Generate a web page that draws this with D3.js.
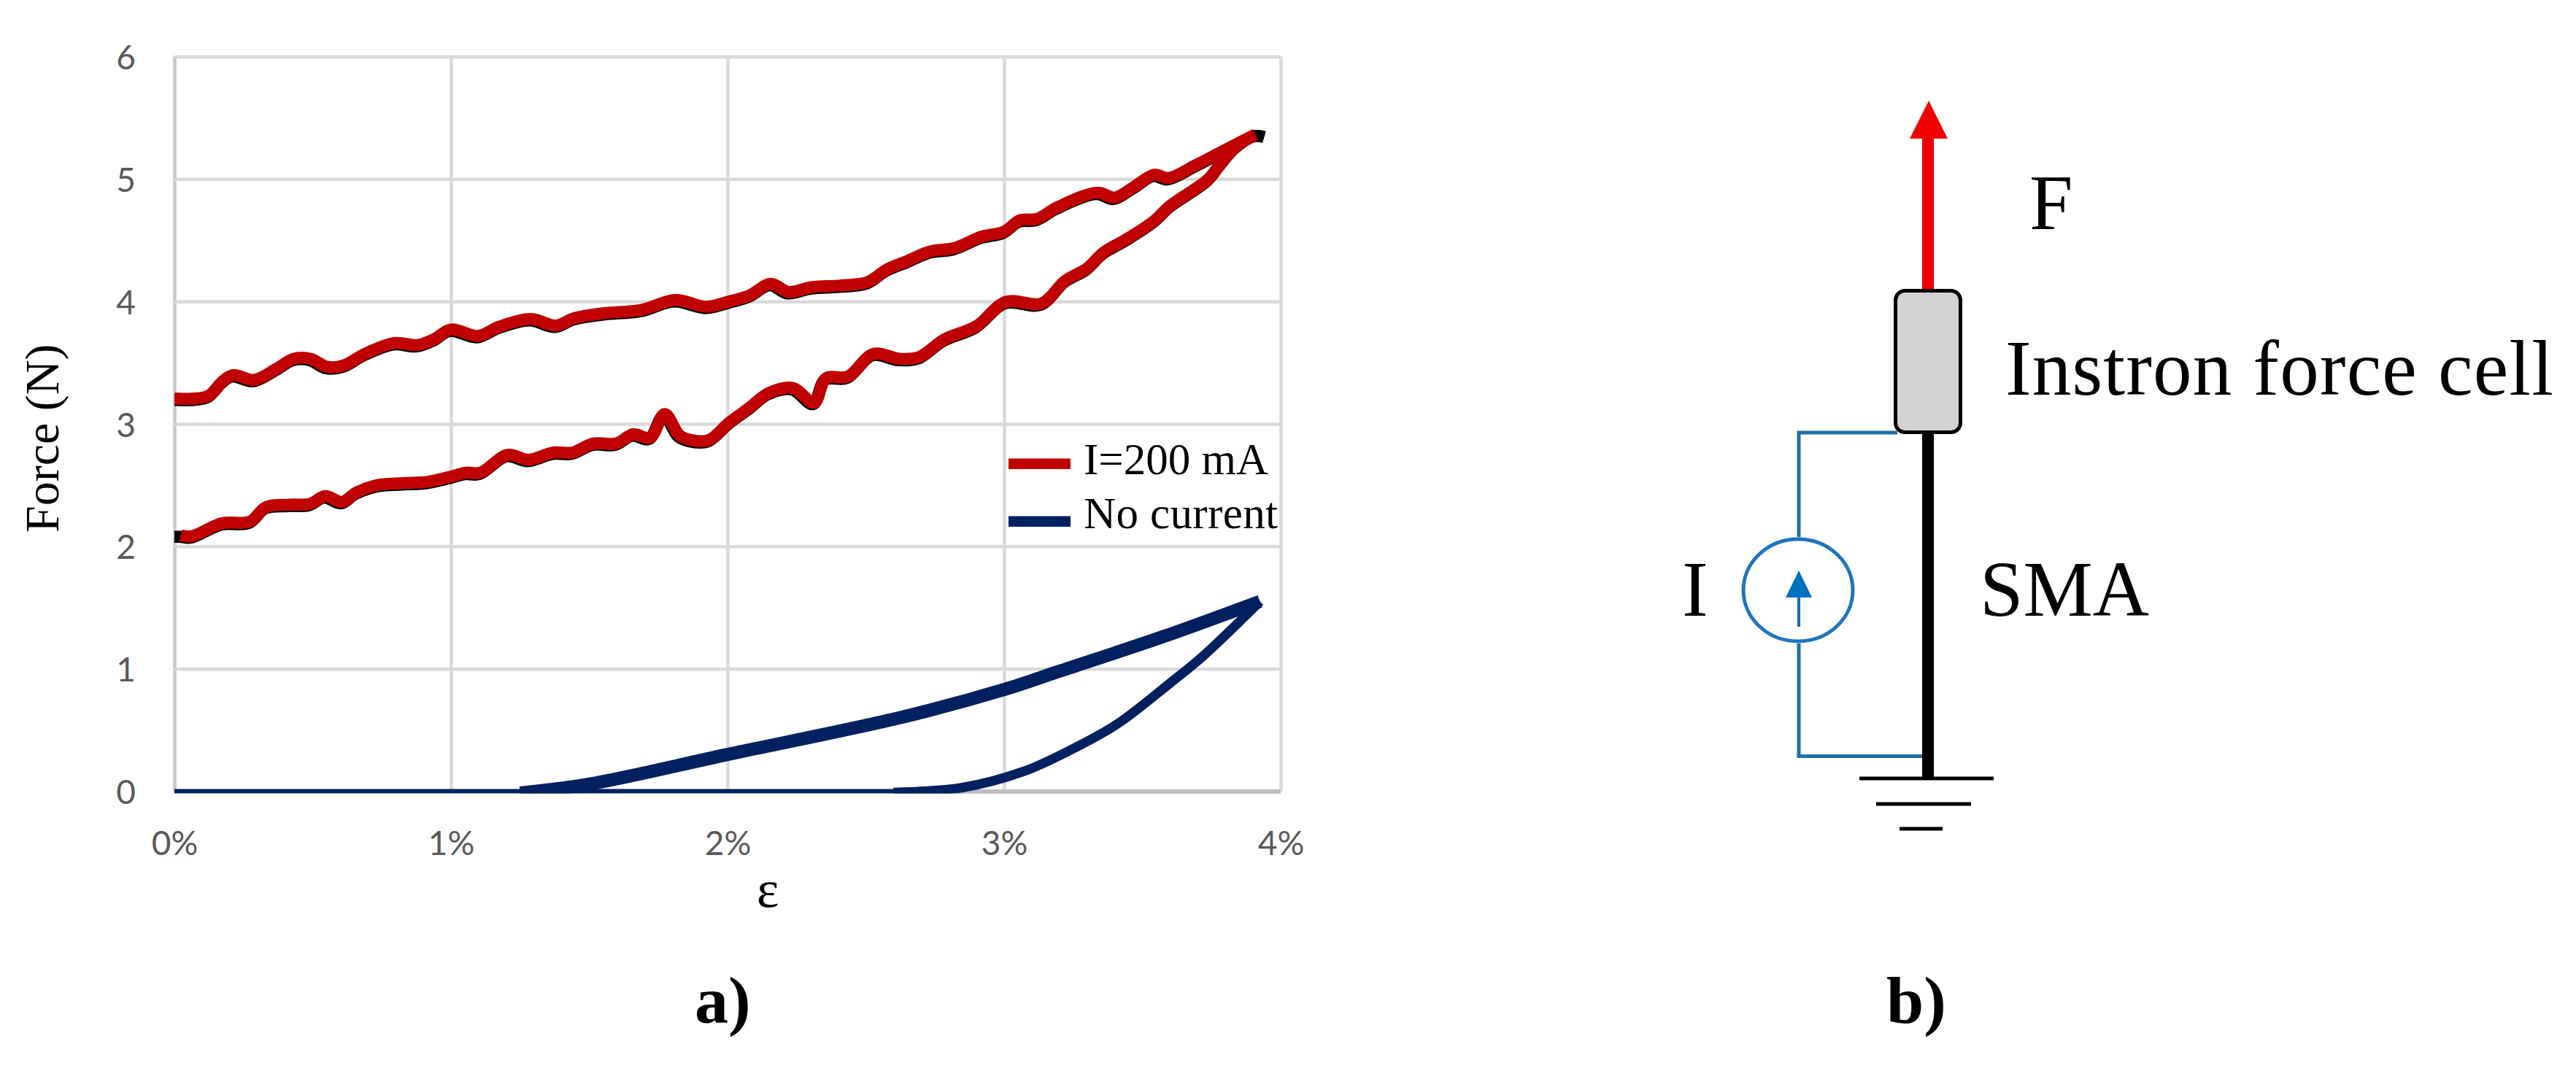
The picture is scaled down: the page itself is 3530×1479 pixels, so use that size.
<!DOCTYPE html>
<html><head><meta charset="utf-8">
<script src="https://cdn.jsdelivr.net/npm/d3@7/dist/d3.min.js"></script>
<style>
html,body{margin:0;padding:0;background:#fff}
svg{display:block}
.serif{font-family:"Liberation Serif",serif;fill:#000}
.tick text{font-family:Lato,"Open Sans",sans-serif;font-size:46px;fill:#595959}
</style></head><body>
<script>
// ---- Data (strain %, force N) ----
const xTicks = [0,1,2,3,4];
const yTicks = [0,1,2,3,4,5,6];
const legendLabels = ["I=200 mA","No current"];

const current200Loading = [[0,3.207],[.121,3.226],[.174,3.346],[.212,3.399],[.288,3.359],[.371,3.452],[.432,3.532],[.492,3.532],[.553,3.465],[.614,3.479],[.689,3.572],[.795,3.66],[.879,3.644],[.939,3.691],[1,3.771],[1.098,3.718],[1.174,3.793],[1.288,3.856],[1.379,3.803],[1.447,3.864],[1.553,3.904],[1.689,3.931],[1.811,4.011],[1.924,3.957],[2.006,4.0],[2.08,4.05],[2.157,4.144],[2.22,4.077],[2.306,4.117],[2.406,4.13],[2.506,4.157],[2.578,4.263],[2.65,4.33],[2.735,4.41],[2.82,4.436],[2.92,4.53],[3,4.57],[3.057,4.662],[3.12,4.675],[3.193,4.769],[3.336,4.888],[3.4,4.848],[3.465,4.928],[3.544,5.035],[3.594,5.008],[3.694,5.114],[3.808,5.247],[3.908,5.362]];
const current200Lower = [[.023,2.09],[.061,2.082],[.174,2.189],[.273,2.202],[.333,2.322],[.417,2.34],[.492,2.348],[.545,2.41],[.606,2.362],[.659,2.441],[.735,2.5],[.826,2.516],[.917,2.527],[1.008,2.574],[1.053,2.601],[1.106,2.601],[1.205,2.747],[1.28,2.707],[1.371,2.766],[1.439,2.766],[1.515,2.84],[1.598,2.84],[1.659,2.915],[1.72,2.888],[1.773,3.08],[1.826,2.907],[1.871,2.867],[1.932,2.867],[2.008,3.013],[2.08,3.133],[2.15,3.253],[2.236,3.293],[2.313,3.173],[2.356,3.372],[2.435,3.386],[2.528,3.572],[2.621,3.532],[2.692,3.545],[2.785,3.691],[2.9,3.798],[3.007,3.997],[3.136,3.984],[3.222,4.17],[3.3,4.27],[3.36,4.4],[3.444,4.51],[3.544,4.66],[3.6,4.78],[3.737,4.995],[3.78,5.114],[3.837,5.261],[3.908,5.362]];
const shadowStart = [[0,2.09]];
const shadowEnd = [[3.944,5.354]];

const noCurrentBase = [[0,0],[1.2,0],[1.5,0],[2.8,0]];
const noCurrentLoading = [[1.25,-.015],[1.515,.064],[2,.3],[2.634,.606],[3,.83],[3.2,.98],[3.57,1.258],[3.925,1.55]];
const noCurrentReturn = [[3.925,1.55],[3.72,1.105],[3.6,.883],[3.41,.55],[3.257,.356],[3.07,.161],[2.85,.03],[2.6,-.01]];

// ---- Chart ----
const W=3530,H=1479;
const svg=d3.select("body").append("svg").attr("width",W).attr("height",H);
const x=d3.scaleLinear().domain([0,4]).range([239,1755]);
const y=d3.scaleLinear().domain([0,6]).range([1084.5,77.5]);
const GRID="#d9d9d9";

svg.append("defs").append("clipPath").attr("id","plot").append("rect")
  .attr("x",x(0)).attr("y",y(6)).attr("width",x(4)-x(0)+30).attr("height",y(0)-y(6)+3);

const gx=svg.append("g").attr("transform",`translate(0,${y(0)})`)
  .call(d3.axisBottom(x).tickValues(xTicks).tickSize(y(6)-y(0)).tickPadding(0).tickFormat(d=>d+"%"));
const gy=svg.append("g").attr("transform",`translate(${x(0)},0)`)
  .call(d3.axisLeft(y).tickValues(yTicks).tickSize(x(0)-x(4)).tickPadding(53).tickFormat(d3.format("d")));
gx.select(".domain").remove(); gy.select(".domain").remove();
gx.selectAll("line").attr("stroke",GRID).attr("stroke-width",4.5);
gy.selectAll("line").attr("stroke",GRID).attr("stroke-width",4.5);
gx.selectAll("text").attr("y",87).attr("dy",0);
gy.selectAll("text").attr("dy","0.37em");
gy.selectAll(".tick").filter(d=>d===0).select("line").attr("stroke","#bfbfbf").attr("stroke-width",6);
gx.selectAll(".tick").filter(d=>d===0).select("line").attr("stroke","#c6c6c6");

const line=d3.line().x(d=>x(d[0])).y(d=>y(d[1])).curve(d3.curveCatmullRom.alpha(.5));
const plot=svg.append("g").attr("clip-path","url(#plot)").attr("fill","none").attr("stroke-linejoin","round");

[current200Loading, shadowStart.concat(current200Lower)].forEach(s=>{
  plot.append("path").attr("d",line(s.concat(shadowEnd)))
    .attr("stroke","#000").attr("stroke-width",16.5).attr("transform","translate(-1.5,2)");
});
[current200Loading,current200Lower].forEach(s=>{
  plot.append("path").attr("d",line(s)).attr("stroke","#c00000").attr("stroke-width",16.5);
});
plot.append("path").attr("d",line(noCurrentBase)).attr("stroke","#002060").attr("stroke-width",6);
plot.append("path").attr("d",line(noCurrentReturn)).attr("stroke","#002060").attr("stroke-width",13);
plot.append("path").attr("d",line(noCurrentLoading)).attr("stroke","#002060").attr("stroke-width",18);

// Legend
const legendColors=["#c00000","#002060"];
const legend=svg.append("g");
legendLabels.forEach((t,i)=>{
  const b=[650,724][i];
  legend.append("rect").attr("x",1382).attr("y",[628.5,707.5][i]).attr("width",85).attr("height",14.5).attr("fill",legendColors[i]);
  legend.append("text").attr("class","serif").attr("x",1485).attr("y",b).attr("font-size",61).attr("textLength",i===0?253:266).text(t);
});

// Axis titles
svg.append("text").attr("class","serif").attr("transform","translate(80,730) rotate(-90)").attr("font-size",66).text("Force (N)");
svg.append("text").attr("class","serif").attr("x",1052).attr("y",1243).attr("text-anchor","middle").attr("font-size",72).text("ε");

// Panel labels
const panelLabels=[["a)",952],["b)",2585]];
panelLabels.forEach(([t,px])=>svg.append("text").attr("class","serif").attr("x",px).attr("y",1402).attr("font-size",92).attr("font-weight","bold").text(t));

// ---- Schematic b) ----
const d=svg.append("g");
d.append("path").attr("d","M2465,736V593H2600M2465,882V1036.5H2636").attr("fill","none").attr("stroke","#1f6fa8").attr("stroke-width",5);
d.append("line").attr("x1",2642).attr("x2",2642).attr("y1",590).attr("y2",1066).attr("stroke","#000").attr("stroke-width",16);
d.append("line").attr("x1",2642).attr("x2",2642).attr("y1",400).attr("y2",185).attr("stroke","#f00000").attr("stroke-width",16);
d.append("path").attr("d","M2643,138L2669,190H2617Z").attr("fill","#f00000");
d.append("rect").attr("x",2597.5).attr("y",398.5).attr("width",89).attr("height",194).attr("rx",13).attr("fill","#d3d3d3").attr("stroke","#000").attr("stroke-width",5);
d.append("ellipse").attr("cx",2464).attr("cy",809).attr("rx",75).attr("ry",70).attr("fill","#fff").attr("stroke","#1f75bc").attr("stroke-width",5);
d.append("line").attr("x1",2465).attr("x2",2465).attr("y1",815).attr("y2",859).attr("stroke","#0070c0").attr("stroke-width",4);
d.append("path").attr("d","M2465,782L2483,819H2447Z").attr("fill","#0070c0");
[[2548,2732,1067],[2571,2701,1102],[2603,2662,1136]].forEach(([a,b,c])=>d.append("line").attr("x1",a).attr("x2",b).attr("y1",c).attr("y2",c).attr("stroke","#000").attr("stroke-width",5));
[["F",2781,314],["Instron force cell",2748,540.5],["SMA",2713,843.5],["I",2305,843.5]].forEach(([t,a,b])=>
  d.append("text").attr("class","serif").attr("x",a).attr("y",b).attr("font-size",107).attr("textLength",t.length>5?751:null).text(t));
</script>
</body></html>
